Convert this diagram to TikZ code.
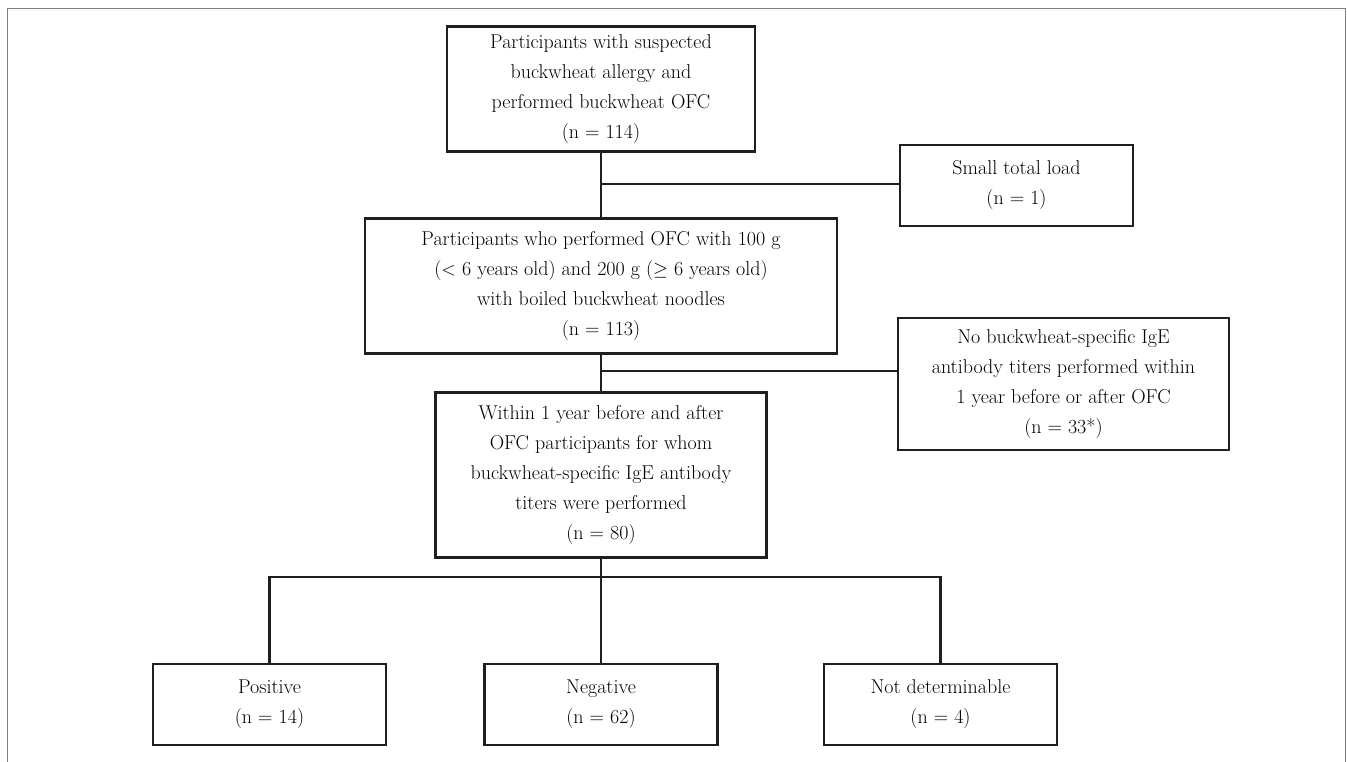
\documentclass[tikz,border=0pt]{standalone}
\usepackage{fontspec}
\begin{document}
\begin{tikzpicture}[x=0.75pt,y=-0.75pt,
  box/.style={draw=black!88, line width=2pt, align=center, inner sep=0pt,
    font=\fontsize{15}{22.5}\selectfont, text=black},
  conn/.style={draw=black!88, line width=2pt},
  frame/.style={draw=black!50, line width=1.1pt}]
\useasboundingbox (0,0) rectangle (1347,762);
\draw[frame] (7.5,775) -- (7.5,8.5) -- (1345.5,8.5) -- (1345.5,775);
\node[box, minimum width=308*0.75pt, minimum height=125*0.75pt] (b1) at (601,89)
  {Participants with suspected\\buckwheat allergy and\\performed buckwheat OFC\\(n = 114)};
\path (601,25) coordinate (b1top);
\node[box, minimum width=233*0.75pt, minimum height=81*0.75pt] (small) at (1016.5,185.5)
  {Small total load\\(n = 1)};
\node[box, minimum width=472*0.75pt, minimum height=135*0.75pt] (b2) at (601,286)
  {Participants who performed OFC with 100 g\\($<$ 6 years old) and 200 g ($\geq$ 6 years old)\\with boiled buckwheat noodles\\(n = 113)};
\node[box, minimum width=331*0.75pt, minimum height=132*0.75pt] (noige) at (1063.5,384)
  {No buckwheat-specific IgE\\antibody titers performed within\\1 year before or after OFC\\(n = 33*)};
\node[box, minimum width=331*0.75pt, minimum height=165*0.75pt] (b3) at (601,475)
  {Within 1 year before and after\\OFC participants for whom\\buckwheat-specific IgE antibody\\titers were performed\\(n = 80)};
\node[box, minimum width=233*0.75pt, minimum height=81*0.75pt] (pos) at (269.5,704.5)
  {Positive\\(n = 14)};
\node[box, minimum width=233*0.75pt, minimum height=81*0.75pt] (neg) at (601,704.5)
  {Negative\\(n = 62)};
\node[box, minimum width=233*0.75pt, minimum height=81*0.75pt] (nd) at (940.5,704.5)
  {Not determinable\\(n = 4)};
\coordinate (j1) at (601,184);
\coordinate (j2) at (601,371);
\coordinate (j3) at (601,577);
\draw[conn] (b1.south) -- (b2.north);
\draw[conn] (j1) -- (small.west |- j1);
\draw[conn] (b2.south) -- (b3.north);
\draw[conn] (j2) -- (noige.west |- j2);
\draw[conn] (b3.south) -- (j3);
\draw[conn] (pos.north) -- (pos.north |- j3) -- (nd.north |- j3) -- (nd.north);
\draw[conn] (neg.north |- j3) -- (neg.north);
\end{tikzpicture}
\end{document}
